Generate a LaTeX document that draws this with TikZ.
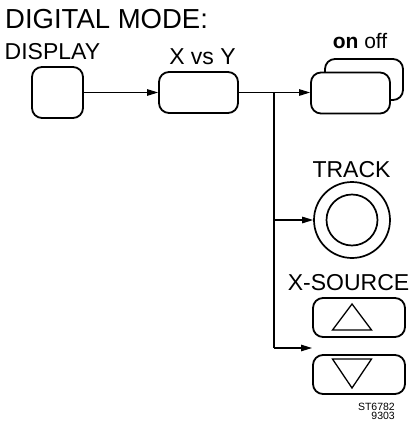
\documentclass[tikz,border=0pt]{standalone}
\usepackage{fontspec}
\setmainfont{Liberation Sans}
\usetikzlibrary{arrows.meta}
\begin{document}
\begin{tikzpicture}[x=1pt,y=-1pt,
  btn/.style={draw,line width=1.8pt,rounded corners=10pt,fill=white,inner sep=0pt},
  conn/.style={line width=1.2pt},
  arr/.style={conn,-{Triangle[length=11pt,width=6.5pt]}},
  lbl/.style={inner sep=0pt,font=\fontsize{23}{26}\selectfont},
  small/.style={inner sep=0pt,font=\fontsize{10.5}{12}\selectfont}]
\useasboundingbox (0,0) rectangle (415,423);
% title and labels
\node[lbl,anchor=base west,font=\fontsize{27.5}{30}\selectfont] (title) at (5,28) {DIGITAL MODE:};
\node[lbl,anchor=base west] (displbl) at (4.5,59) {DISPLAY};
\node[lbl,anchor=base] (xylbl) at (202.5,64) {X vs Y};
\node[lbl,anchor=base,font=\fontsize{21}{24}\selectfont] (onofflbl) at (360,48) {\textbf{on} off};
\node[lbl,anchor=base] (tracklbl) at (351.5,177) {TRACK};
\node[lbl,anchor=base] (xsrclbl) at (348.5,290) {X-SOURCE};
\node[small,anchor=base east] (st) at (395,410) {ST6782};
\node[small,anchor=base east] (num) at (395,419.5) {9303};
% buttons
\node[btn,minimum width=51pt,minimum height=51pt] (disp) at (57.5,92.5) {};
\node[btn,minimum width=79pt,minimum height=41pt] (xy) at (198.5,92.5) {};
\node[btn,minimum width=78pt,minimum height=41pt] (offbox) at (364,79.5) {};
\node[btn,minimum width=79pt,minimum height=41pt] (onbox) at (350.5,93) {};
\node[draw,circle,line width=1.7pt,minimum size=76pt,inner sep=0pt] (track) at (352,220) {};
\node[draw,circle,line width=1.7pt,minimum size=51pt,inner sep=0pt] (trackin) at (track.center) {};
\node[btn,minimum width=92pt,minimum height=39pt] (up) at (359,317.5) {};
\node[btn,minimum width=92pt,minimum height=39pt] (down) at (359,374.5) {};
\draw[line width=1.3pt,line join=miter] (352,304) -- (371.5,330) -- (332.5,330) -- cycle;
\draw[line width=1.3pt,line join=miter] (332.5,359) -- (371.5,359) -- (352,388) -- cycle;
% connectors
\coordinate (br1) at (274,92.5);
\coordinate (br2) at (274,220);
\coordinate (br3) at (274,348);
\coordinate (tip3) at (312,348);
\draw[arr] (disp.east) -- (xy.west);
\draw[arr] (xy.east) -- (br1) -- (onbox.west |- br1);
\draw[conn] (br1) -- (br3);
\draw[arr] (br2) -- (track.west);
\draw[arr] (br3) -- (tip3);
\end{tikzpicture}
\end{document}
